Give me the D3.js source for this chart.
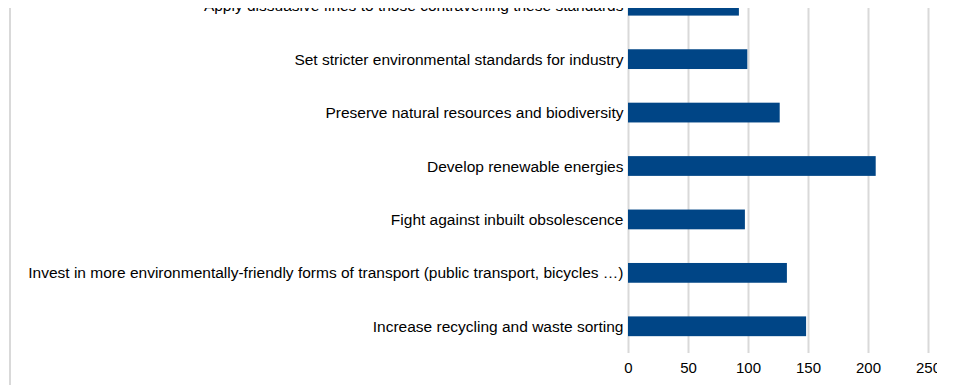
<!DOCTYPE html>
<html><head><meta charset="utf-8">
<script src="https://cdn.jsdelivr.net/npm/d3@7"></script>
<style>html,body{margin:0;padding:0;background:#fff;overflow:hidden}</style>
</head><body>
<script>
const categories = [
  "Apply dissuasive fines to those contravening these standards",
  "Set stricter environmental standards for industry",
  "Preserve natural resources and biodiversity",
  "Develop renewable energies",
  "Fight against inbuilt obsolescence",
  "Invest in more environmentally-friendly forms of transport (public transport, bicycles …)",
  "Increase recycling and waste sorting"
];
const values = [92, 99, 126, 206, 97, 132, 148];
const ticks = [0, 50, 100, 150, 200, 250];

const W = 953, H = 385;
const svg = d3.select("body").append("svg").attr("width", W).attr("height", H);
const defs = svg.append("defs");
defs.append("clipPath").attr("id","clip").append("rect").attr("x",0).attr("y",8).attr("width",937).attr("height",H-8);
const g = svg.append("g").attr("clip-path","url(#clip)");

const x = d3.scaleLinear().domain([0, 250]).range([628.5, 928.5]);
const y = d3.scaleBand().domain(categories).range([-21, 353]).paddingInner(0.63).paddingOuter(0.315);

// frame line on left
g.append("line").attr("x1",10).attr("x2",10).attr("y1",8).attr("y2",H)
  .attr("stroke","#d9d9d9").attr("stroke-width",2);

// gridlines
g.append("g").selectAll("line").data(ticks).join("line")
  .attr("x1", d=>x(d)).attr("x2", d=>x(d)).attr("y1", 8).attr("y2", 353)
  .attr("stroke","#d9d9d9").attr("stroke-width",2);

// bars
g.append("g").selectAll("rect").data(categories).join("rect")
  .attr("x", x(0)-0.5).attr("y", d=>y(d))
  .attr("width", (d,i)=>x(values[i])-x(0)+0.5).attr("height", y.bandwidth())
  .attr("fill","#004586");

// category labels
g.append("g").selectAll("text").data(categories).join("text")
  .attr("x", x(0)-5).attr("y", d=>y(d)+y.bandwidth()/2).attr("dy","0.36em")
  .attr("text-anchor","end").attr("font-family","'Liberation Sans', Arial, sans-serif")
  .attr("font-size","15.5px").attr("fill","#000").text(d=>d);

// tick labels
g.append("g").selectAll("text").data(ticks).join("text")
  .attr("x", d=>x(d)).attr("y", 373).attr("text-anchor","middle")
  .attr("font-family","'Liberation Sans', Arial, sans-serif")
  .attr("font-size","15px").attr("fill","#000").text(d=>d);
</script>
</body></html>
